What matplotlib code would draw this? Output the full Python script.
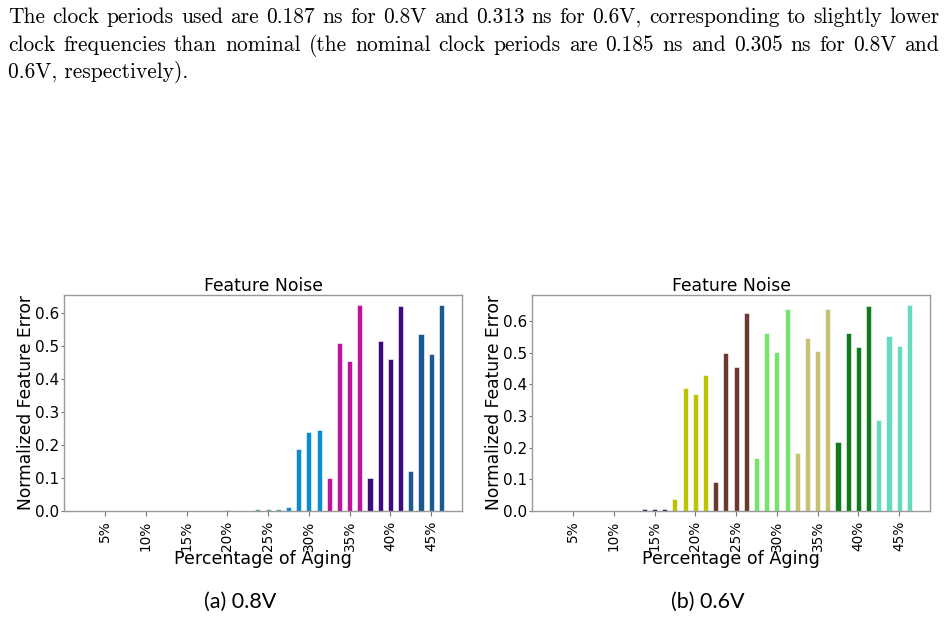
import matplotlib
matplotlib.use('Agg')
import matplotlib.pyplot as plt
import numpy as np

# page text above the figure
text_lines = [
    'The clock periods used are 0.187 ns for 0.8V and 0.313 ns for 0.6V, corresponding to slightly lower',
    'clock frequencies than nominal (the nominal clock periods are 0.185 ns and 0.305 ns for 0.8V and',
    '0.6V, respectively).',
]

aging = ['5%', '10%', '15%', '20%', '25%', '30%', '35%', '40%', '45%']

# four bars per aging level
err_08 = [
    [0.0, 0.0, 0.0, 0.0],
    [0.0, 0.0, 0.0, 0.0],
    [0.0005, 0.0005, 0.0005, 0.0005],
    [0.001, 0.001, 0.002, 0.0008],
    [0.001, 0.006, 0.006, 0.007],
    [0.013, 0.189, 0.239, 0.245],
    [0.099, 0.509, 0.455, 0.623],
    [0.099, 0.516, 0.461, 0.621],
    [0.120, 0.537, 0.476, 0.623],
]
colors_08 = ['#b9a37a', '#9a8a66', '#8c7a3c', '#a060b0', '#52a89a',
             '#0b8bd0', '#c0139a', '#3c0a7d', '#1a5a92']

err_06 = [
    [0.0, 0.0, 0.0, 0.0],
    [0.0005, 0.0005, 0.0005, 0.0005],
    [0.001, 0.006, 0.006, 0.006],
    [0.037, 0.389, 0.370, 0.431],
    [0.091, 0.500, 0.454, 0.627],
    [0.168, 0.561, 0.503, 0.637],
    [0.183, 0.547, 0.506, 0.637],
    [0.218, 0.561, 0.518, 0.648],
    [0.288, 0.552, 0.521, 0.650],
]
colors_06 = ['#b0a0c0', '#c8bf72', '#1c1a6b', '#bcc300', '#6b3a2f',
             '#76e36a', '#c8c173', '#0f7b1a', '#64dbbf']

captions = ['(a) 0.8V', '(b) 0.6V']

W, H = 947, 618
fig = plt.figure(figsize=(W / 100, H / 100), dpi=100)


def draw_panel(ax, values, colors):
    width = 0.125
    for i, (vals, c) in enumerate(zip(values, colors)):
        xs = [i + (j - 2) * 0.25 for j in range(len(vals))]
        ax.bar(xs, vals, width=width, color=c, edgecolor='white', linewidth=0.4)
    ax.set_xticks(range(len(aging)))
    ax.set_xticklabels(aging, rotation=90, fontsize=9.8)
    ax.tick_params(axis='y', labelsize=11, length=2, pad=1.5, color='#777777')
    ax.tick_params(axis='x', length=3.5, color='#777777')
    ax.set_title('Feature Noise', fontsize=12.4, pad=2)
    ax.set_xlabel('Percentage of Aging', fontsize=12.6, labelpad=-1)
    ax.set_ylabel('Normalized Feature Error', fontsize=12.3, labelpad=0)
    for s in ax.spines.values():
        s.set_color('#999999')
        s.set_linewidth(1.0)


ax1 = fig.add_axes([64 / W, 1 - 511 / H, 398 / W, 216 / H])
ax2 = fig.add_axes([532 / W, 1 - 511 / H, 398 / W, 216 / H])
draw_panel(ax1, err_08, colors_08)
draw_panel(ax2, err_06, colors_06)

fig.text(240 / W, 1 - 602 / H, captions[0], ha='center', va='center', fontsize=15.5, family='Lato')
fig.text(708 / W, 1 - 602 / H, captions[1], ha='center', va='center', fontsize=15.5, family='Lato')

# justified paragraph in Computer Modern
renderer = fig.canvas.get_renderer()
left, right = 8, 939
baselines = [23, 51, 78]

probe = fig.text(0, 0, text_lines[0], fontsize=15, family='cmr10')
fs = 15 * (right - left) / probe.get_window_extent(renderer).width
probe.remove()

for k, (line, yb) in enumerate(zip(text_lines, baselines)):
    y = 1 - yb / H
    if k == len(text_lines) - 1:
        fig.text(left / W, y, line, fontsize=fs, family='cmr10', va='baseline')
        continue
    words = line.split(' ')
    objs = [fig.text(0, y, w, fontsize=fs, family='cmr10', va='baseline') for w in words]
    widths = [t.get_window_extent(renderer).width for t in objs]
    gap = (right - left - sum(widths)) / (len(words) - 1)
    x = left
    for t, w in zip(objs, widths):
        t.set_x(x / W)
        x += w + gap

fig.savefig('out.png', dpi=100)
